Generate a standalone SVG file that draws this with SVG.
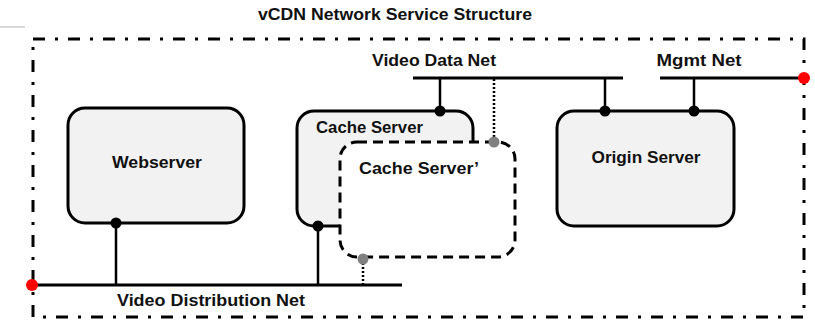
<svg xmlns="http://www.w3.org/2000/svg" width="815" height="320" viewBox="0 0 815 320">
<style>
text{font-family:"Liberation Sans",Arial,sans-serif;font-weight:bold;font-size:17px;fill:#111}
.box{fill:#f2f2f2;stroke:#000;stroke-width:3}
.net{stroke:#000;stroke-width:3;fill:none}
.link{stroke:#000;stroke-width:2.5;fill:none}
.dot{stroke:#000;stroke-width:2.5;stroke-dasharray:2 2;fill:none}
</style>
<rect width="815" height="320" fill="#fff"/>
<line x1="0" y1="27" x2="25" y2="27" stroke="#d9d9d9" stroke-width="2"/>
<text x="395" y="20" text-anchor="middle" textLength="274" lengthAdjust="spacingAndGlyphs">vCDN Network Service Structure</text>
<rect id="boundary" x="33" y="39" width="771" height="278" fill="none" stroke="#000" stroke-width="3" stroke-dasharray="12 10 3 10"/>
<g id="webserver">
<rect class="box" x="68" y="108" width="176" height="115" rx="17"/>
<text x="157" y="168" text-anchor="middle" textLength="90" lengthAdjust="spacingAndGlyphs">Webserver</text>
</g>
<g id="cache-server">
<rect class="box" x="297" y="111" width="176" height="115" rx="17"/>
<text x="316" y="133" textLength="107" lengthAdjust="spacingAndGlyphs">Cache Server</text>
</g>
<g id="cache-server-prime">
<rect x="340" y="142" width="175" height="115" rx="17" fill="#fff" stroke="#000" stroke-width="3" stroke-dasharray="10 6"/>
<text x="359" y="174" textLength="120" lengthAdjust="spacingAndGlyphs">Cache Server’</text>
</g>
<g id="origin-server">
<rect class="box" x="557" y="111" width="177" height="115" rx="17"/>
<text x="646" y="163" text-anchor="middle" textLength="109" lengthAdjust="spacingAndGlyphs">Origin Server</text>
</g>
<g id="video-data-net">
<line class="net" x1="413" y1="78" x2="623" y2="78"/>
<text x="434" y="66" text-anchor="middle" textLength="124" lengthAdjust="spacingAndGlyphs">Video Data Net</text>
</g>
<g id="mgmt-net">
<line class="net" x1="660" y1="78" x2="804" y2="78"/>
<circle cx="804" cy="78" r="6" fill="#f00"/>
<text x="699" y="66" text-anchor="middle" textLength="85" lengthAdjust="spacingAndGlyphs">Mgmt Net</text>
</g>
<g id="video-distribution-net">
<line class="net" x1="33" y1="285" x2="402" y2="285"/>
<circle cx="32" cy="285" r="6" fill="#f00"/>
<text x="211" y="306" text-anchor="middle" textLength="188" lengthAdjust="spacingAndGlyphs">Video Distribution Net</text>
</g>
<g id="connectors">
<line class="link" x1="116" y1="223" x2="116" y2="285"/>
<circle cx="116" cy="223" r="5.5" fill="#000"/>
<line class="link" x1="318" y1="226" x2="318" y2="285"/>
<circle cx="318" cy="226" r="5.5" fill="#000"/>
<line class="link" x1="440" y1="78" x2="440" y2="111"/>
<circle cx="440" cy="111" r="5.5" fill="#000"/>
<line class="link" x1="605" y1="78" x2="605" y2="111"/>
<circle cx="605" cy="111" r="5.5" fill="#000"/>
<line class="link" x1="694" y1="78" x2="694" y2="111"/>
<circle cx="694" cy="111" r="5.5" fill="#000"/>
<line class="dot" x1="494" y1="79" x2="494" y2="142"/>
<circle cx="494" cy="142" r="5.5" fill="#808080"/>
<line class="dot" x1="363" y1="259" x2="363" y2="284"/>
<circle cx="363" cy="259" r="5.5" fill="#808080"/>
</g>
</svg>
